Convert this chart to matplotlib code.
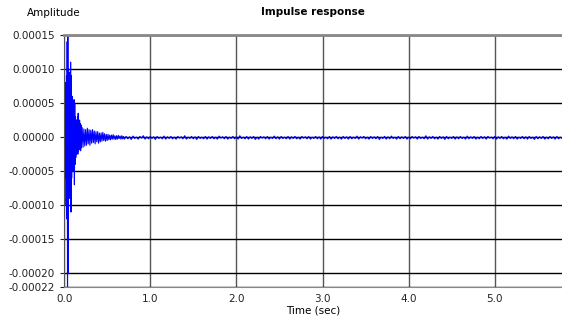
import matplotlib
matplotlib.use("Agg")
import matplotlib.pyplot as plt
import numpy as np

# impulse response samples, in units of 1e-5
# early part: 0.000 .. 0.196 s, step 0.004 s
early = [0, 2, -3, 5, -6, 8, -10, 9, -12, 14,
         -22, 15, -20, 10, -9, 9.5, -8, 8, -9, 11,
         -11, 9, -6, 6, -5, 5, -4.5, 4, -5, 5.5,
         -7, 5, -4, 3, -3, 2.5, -2.5, 2.5, -2, 3,
         -2.5, 3.5, -2, 2, -1.8, 2.5, -1.5, 2, -2, 1.8]
# decay: 0.20 .. 0.69 s, step 0.01 s
decay = [-1.6, 1.4, -1.5, 1.2, -1.3, 1.1, -1.2, 1.3, -1.0, 1.1,
         -1.2, 1.0, -0.9, 1.1, -0.8, 0.9, -1.0, 0.8, -0.7, 0.8,
         -0.9, 0.6, -0.7, 0.6, -0.6, 0.7, -0.5, 0.5, -0.6, 0.4,
         -0.5, 0.4, -0.4, 0.3, -0.4, 0.3, -0.3, 0.35, -0.3, 0.2,
         -0.35, 0.2, -0.3, 0.25, -0.2, 0.15, -0.3, 0.2, -0.25, 0.1]
# tail: 0.70 .. 5.80 s, step 0.02 s
tail = [-0.3, 0.1, -0.25, 0.05, -0.35, 0.15, -0.2, 0.0, -0.3, 0.1,
        -0.15, 0.2, -0.3, 0.05, -0.25, 0.1, -0.2, 0.05, -0.35, 0.1,
        -0.2, 0.0, -0.25, 0.15, -0.3, 0.05, -0.2, 0.1, -0.25, 0.0,
        -0.3, 0.1, -0.15, 0.05, -0.25, 0.2, -0.3, 0.0, -0.2, 0.1,
        -0.25, 0.05, -0.35, 0.1, -0.2, 0.0, -0.25, 0.1, -0.3, 0.05,
        -0.2, 0.1, -0.25, 0.0, -0.3, 0.15, -0.15, 0.05, -0.25, 0.1,
        -0.3, 0.0, -0.2, 0.1, -0.25, 0.05, -0.3, 0.2, -0.2, 0.0,
        -0.25, 0.1, -0.3, 0.05, -0.2, 0.1, -0.35, 0.0, -0.3, 0.1,
        -0.15, 0.05, -0.25, 0.1, -0.3, 0.0, -0.2, 0.15, -0.25, 0.05,
        -0.3, 0.1, -0.2, 0.0, -0.25, 0.1, -0.3, 0.05, -0.2, 0.1,
        -0.25, 0.0, -0.3, 0.1, -0.15, 0.05, -0.25, 0.1, -0.3, 0.0,
        -0.2, 0.1, -0.25, 0.05, -0.3, 0.1, -0.2, 0.0, -0.25, 0.1,
        -0.3, 0.05, -0.2, 0.1, -0.25, 0.0, -0.3, 0.1, -0.2, 0.05,
        -0.3, 0.1, -0.25, 0.0, -0.2, 0.15, -0.3, 0.05, -0.15, 0.1,
        -0.25, 0.0, -0.3, 0.1, -0.2, 0.05, -0.25, 0.1, -0.35, 0.0,
        -0.2, 0.1, -0.3, 0.05, -0.25, 0.15, -0.2, 0.0, -0.3, 0.1,
        -0.25, 0.05, -0.2, 0.1, -0.3, 0.0, -0.25, 0.1, -0.15, 0.05,
        -0.3, 0.1, -0.2, 0.0, -0.25, 0.2, -0.3, 0.05, -0.2, 0.1,
        -0.25, 0.0, -0.3, 0.1, -0.2, 0.05, -0.35, 0.1, -0.25, 0.0,
        -0.2, 0.1, -0.3, 0.05, -0.25, 0.1, -0.2, 0.0, -0.3, 0.15,
        -0.25, 0.05, -0.2, 0.1, -0.3, 0.0, -0.25, 0.1, -0.2, 0.05,
        -0.3, 0.1, -0.15, 0.0, -0.25, 0.1, -0.3, 0.05, -0.2, 0.1,
        -0.25, 0.0, -0.3, 0.15, -0.2, 0.05, -0.25, 0.1, -0.3, 0.0,
        -0.2, 0.1, -0.25, 0.05, -0.3, 0.1, -0.2, 0.0, -0.35, 0.1,
        -0.25, 0.05, -0.2, 0.1, -0.3, 0.0, -0.25, 0.1, -0.2, 0.05,
        -0.3, 0.1, -0.25, 0.0, -0.2, 0.1]

yticks = [0.00015, 0.0001, 0.00005, 0.0, -0.00005, -0.0001, -0.00015, -0.0002, -0.00022]
xticks = [0.0, 1.0, 2.0, 3.0, 4.0, 5.0]

t = np.concatenate([np.arange(len(early)) * 0.004,
                    0.2 + np.arange(len(decay)) * 0.01,
                    0.7 + np.arange(len(tail)) * 0.02])
y = np.array(early + decay + tail) * 1e-5

fig = plt.figure(figsize=(5.62, 3.2), dpi=100)
ax = fig.add_axes([0.114, 0.103, 0.886, 0.788])

ax.plot(t, y, color="#0000ff", lw=0.8)

ax.set_xlim(0, 5.78)
ax.set_ylim(-0.00022, 0.00015)
ax.set_yticks(yticks)
ax.set_yticklabels(["%.5f" % v for v in yticks])
ax.set_xticks(xticks)
ax.set_xticklabels(["%.1f" % v for v in xticks])
ax.tick_params(labelsize=7.5, length=3, width=0.8, colors="#222222")
ax.tick_params(axis="x", length=0, pad=5)

ax.grid(axis="y", color="black", lw=1)
ax.grid(axis="x", color="#555555", lw=1)
ax.set_axisbelow(True)

ax.spines["right"].set_visible(False)
ax.spines["top"].set_color("#888888")
ax.spines["top"].set_linewidth(2)
ax.spines["bottom"].set_color("#888888")
ax.spines["left"].set_color("#555555")

ax.set_title("Impulse response", fontsize=7.5, fontweight="bold", pad=14)
ax.set_xlabel("Time (sec)", fontsize=7.5, labelpad=1)
fig.text(0.048, 0.958, "Amplitude", fontsize=7.5, va="center")

plt.savefig("out.png", dpi=100)
